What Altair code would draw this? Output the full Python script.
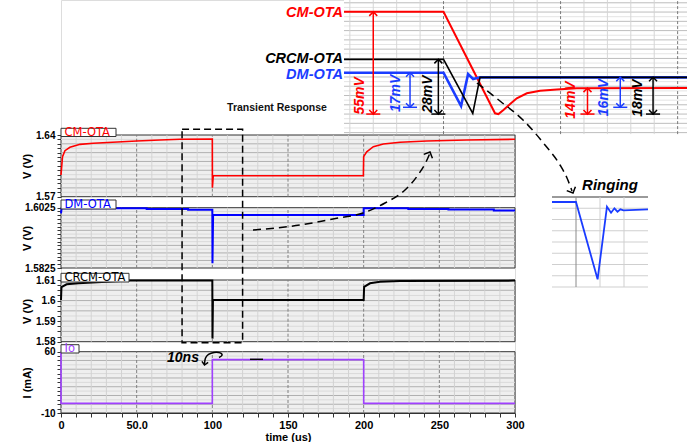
import altair as alt
import pandas as pd

# ------------------------------------------------------------------ data
# main transient waveforms (time in us)
cm_t = [0, 1, 2.6, 5.9, 12.6, 21.3, 50, 65.4, 78.6, 100, 100.05, 100.6, 199.8, 200, 202, 206.4, 213, 224, 241.7, 268, 300]
cm_v = [1.5946, 1.6154, 1.6222, 1.626, 1.6294, 1.6306, 1.6332, 1.6343, 1.6351, 1.6355, 1.5802, 1.5938, 1.5938, 1.6154, 1.621, 1.6267, 1.6298, 1.6317, 1.6332, 1.6343, 1.6351]

dm_t = [0, 0.4, 56.6, 56.6, 84, 84, 100, 100.1, 100.5, 200, 200, 229.5, 229.5, 256, 256, 286, 286, 300]
dm_v = [1.6006, 1.6023, 1.6023, 1.6021, 1.6021, 1.6018, 1.6018, 1.5841, 1.6001, 1.6001, 1.6023, 1.6023, 1.6021, 1.6021, 1.6019, 1.6019, 1.6016, 1.6016]

cr_t = [0, 0.3, 3.7, 11.5, 45.6, 100, 100.1, 100.4, 200, 200.3, 204.2, 210.8, 224, 300]
cr_v = [1.6003, 1.6065, 1.6079, 1.6084, 1.6097, 1.6097, 1.5815, 1.6003, 1.6003, 1.6067, 1.6084, 1.6092, 1.6095, 1.6097]

io_t = [0, 0.01, 100, 100.01, 200, 200.01, 300]
io_v = [60, 1, 1, 51, 51, 1, 1]

time_ticks = list(range(0, 301, 10))

# zoomed inset around the load step (time in ns, relative level in mV)
ins_cm_t = [-8.5, 0, 4.4, 4.69, 5.12, 5.69, 6.26, 7.12, 8.25, 9.68, 11.39, 20.8]
ins_cm_v = [55.1, 55.1, 0.4, 0, 2.2, 5.4, 8.5, 11.2, 12.6, 13.3, 13.9, 14.0]
ins_cr_t = [-8.5, 0, 2.5, 3.12, 20.8]
ins_cr_v = [29.5, 29.5, 0.4, 19.8, 19.8]
ins_dm_t = [-8.5, 0, 1.5, 2.1, 2.53, 3.12, 20.8]
ins_dm_v = [22.3, 22.3, 4.3, 21.6, 18.9, 19.8, 19.8]

# measured deltas in the inset
meas_t = [-6.0, -2.86, -0.44, 12.3, 15.1, 17.9]
meas_top = [55.1, 22.3, 29.5, 14.0, 19.8, 19.8]
meas_bot = [0, 3.65, 0, 0, 3.65, 0]
meas_lab = ["55mV", "17mV", "28mV", "14mV", "16mV", "18mV"]
meas_col = ["#ff0000", "#1a3cff", "#000000", "#ff0000", "#1a3cff", "#000000"]
meas_lab_t = [-7.1, -4.07, -1.36, 10.88, 13.72, 16.59]
meas_lab_v = [9.85, 11.2, 10.8, 7.58, 8.93, 8.66]

# ringing detail (relative units)
ring_t = [-1, 0, 0.9, 1.29, 1.46, 1.6, 1.73, 1.85, 1.98, 3]
ring_v = [85, 85, 7.7, 80.3, 74.3, 78.7, 75.3, 77.7, 76.7, 77.7]

# ------------------------------------------------------------------ layout
LEFT, RIGHT, TOP, BOTTOM = 61, 172, 0, 29
PW, PH = 687 - LEFT - RIGHT, 442 - TOP - BOTTOM
FONT = "Liberation Sans"


def S(domain, rng):
    return alt.Scale(domain=domain, range=rng, nice=False, zero=False)


def XM():
    return S([0, 300], [0, PW])


def AX():
    return S([0, 687], [-LEFT, 687 - LEFT])


def AY():
    return S([0, 442], [0, 442])


def seq(a, b, step, nd=5):
    out, i = [], 0
    while True:
        v = round(a + i * step, nd)
        if v > b + 1e-9:
            break
        out.append(v)
        i += 1
    return out


layers = []

panels = [
    dict(name="CM-OTA", color="#ff0000", t=cm_t, v=cm_v, dom=[1.57, 1.64], top=135, bot=196.7,
         tick=0.005, labels=[1.57, 1.64], major=0.01, title="V (V)", box=(61, 116, 128.3, 136.5), sw=1.6),
    dict(name="DM-OTA", color="#0000ff", t=dm_t, v=dm_v, dom=[1.5825, 1.6025], top=207.7, bot=268,
         tick=0.00125, labels=[1.5825, 1.6025], major=0.0025, title="V (V)", box=(61, 116, 200, 209), sw=2),
    dict(name="CRCM-OTA", color="#000000", t=cr_t, v=cr_v, dom=[1.58, 1.61], top=280, bot=341.7,
         tick=0.0025, labels=[1.58, 1.59, 1.6, 1.61], major=0.005, title="V (V)", box=(61, 129, 273.3, 282), sw=2),
    dict(name="Io", color="#a040ff", t=io_t, v=io_v, dom=[-10, 60], top=351.7, bot=PH,
         tick=5, labels=[-10, 60], major=10, title="I (mA)", box=(61, 79, 344.7, 353), sw=1.6),
]

for k, p in enumerate(panels):
    lo, hi = p["dom"]
    ys = S([lo, hi], [p["bot"], p["top"]])
    frame = pd.DataFrame({"t0": [0], "t1": [300], "v0": [lo], "v1": [hi]})
    layers.append(alt.Chart(frame).mark_rect(fill="#efefef", stroke="#333333", strokeWidth=1).encode(
        x=alt.X("t0:Q", scale=XM(), axis=None), x2="t1:Q",
        y=alt.Y("v0:Q", scale=ys, axis=None), y2="v1:Q"))
    # horizontal grid
    maj = [v for v in seq(lo, hi, p["major"], 6) if lo < v < hi]
    mnr = [round(v + p["major"] / 2, 6) for v in [lo] + maj if v + p["major"] / 2 < hi]
    for vals, col in ((mnr, "#dadada"), (maj, "#b0b0b0")):
        d = pd.DataFrame({"v": vals, "t0": 0, "t1": 300})
        layers.append(alt.Chart(d).mark_rule(color=col, strokeWidth=1).encode(
            x=alt.X("t0:Q", scale=XM(), axis=None), x2="t1:Q",
            y=alt.Y("v:Q", scale=ys, axis=None)))
    # vertical grid
    vmin = [t for t in time_ticks if 0 < t < 300 and t % 50 != 0]
    vmaj = [t for t in time_ticks if 0 < t < 300 and t % 50 == 0]
    for vals, col, dash in ((vmin, "#d2d2d2", [1, 0]), (vmaj, "#808080", [3, 2])):
        d = pd.DataFrame({"t": vals, "v0": lo, "v1": hi})
        layers.append(alt.Chart(d).mark_rule(color=col, strokeWidth=1, strokeDash=dash).encode(
            x=alt.X("t:Q", scale=XM(), axis=None),
            y=alt.Y("v0:Q", scale=ys, axis=None), y2="v1:Q"))
    # waveform with its own y axis (and the time axis on the last panel)
    ticks = seq(lo, hi, p["tick"], 6)
    yaxis = alt.Axis(orient="left", values=ticks,
                     labelExpr=f"indexof({p['labels']}, datum.value) >= 0 ? toString(datum.value) : ''",
                     title=p["title"], titleX=-33.5, titleY=(p["top"] + p["bot"]) / 2, titleAngle=270,
                     titleAlign="center", titleBaseline="middle", titleFont=FONT, titleFontSize=11,
                     titleFontWeight="bold", titleColor="#000", labelFont=FONT, labelFontSize=10,
                     labelFontWeight="bold", labelColor="#000", labelOverlap=False, labelFlush=False,
                     tickSize=4, labelPadding=2, domainColor="#333", tickColor="#333", grid=False)
    if k == len(panels) - 1:
        xaxis = alt.Axis(orient="bottom", values=time_ticks,
                         labelExpr="datum.value % 50 == 0 ? (datum.value == 50 ? '50.0' : toString(datum.value)) : ''",
                         title="time (us)", titleY=24, titleBaseline="middle", titleFont=FONT, titleFontSize=11,
                         titleFontWeight="bold", titleColor="#000", labelFont=FONT, labelFontSize=11,
                         labelFontWeight="bold", labelColor="#000", labelOverlap=False, labelFlush=False,
                         tickSize=4, labelPadding=2, domainColor="#333", tickColor="#333", grid=False)
    else:
        xaxis = None
    d = pd.DataFrame({"t": p["t"], "v": p["v"], "i": range(len(p["t"]))})
    layers.append(alt.Chart(d).mark_line(color=p["color"], strokeWidth=p["sw"]).encode(
        x=alt.X("t:Q", scale=XM(), axis=xaxis),
        y=alt.Y("v:Q", scale=ys, axis=yaxis), order="i:Q"))
    # header label box
    bx0, bx1, by0, by1 = p["box"]
    hb = pd.DataFrame({"x": [bx0], "x2": [bx1], "y": [by0], "y2": [by1], "s": [p["name"]],
                       "tx": [bx0 + 3.5], "ty": [(by0 + by1) / 2 + 0.5]})
    layers.append(alt.Chart(hb).mark_rect(fill="white", stroke="#333333", strokeWidth=1).encode(
        x=alt.X("x:Q", scale=AX(), axis=None), x2="x2:Q",
        y=alt.Y("y:Q", scale=AY(), axis=None), y2="y2:Q"))
    layers.append(alt.Chart(hb).mark_text(align="left", baseline="middle", font="DejaVu Sans",
                                          fontSize=11.5, color=p["color"]).encode(
        x=alt.X("tx:Q", scale=AX(), axis=None), y=alt.Y("ty:Q", scale=AY(), axis=None), text="s:N"))

# small dash left in the Io panel
dash_df = pd.DataFrame({"x": [250], "x2": [263], "y": [359.3]})
layers.append(alt.Chart(dash_df).mark_rule(color="black", strokeWidth=1.4).encode(
    x=alt.X("x:Q", scale=AX(), axis=None), x2="x2:Q", y=alt.Y("y:Q", scale=AY(), axis=None)))

# ------------------------------------------------------------------ top inset
IX = lambda: S([-8.5, 20.8], [344 - LEFT, 687 - LEFT])
IY = lambda: S([-10.8, 61.5], [134.1, 0])

bg = pd.DataFrame({"a": [-8.5], "b": [20.8], "c": [-10.8], "d": [61.5]})
layers.append(alt.Chart(bg).mark_rect(fill="white").encode(
    x=alt.X("a:Q", scale=IX(), axis=None), x2="b:Q", y=alt.Y("c:Q", scale=IY(), axis=None), y2="d:Q"))
ih_light = [v for v in seq(-7.5, 60, 5)]
ih_dark = [v for v in seq(-10, 60, 5)]
for vals, col in ((ih_light, "#e4e4e4"), (ih_dark, "#bdbdbd")):
    d = pd.DataFrame({"v": vals, "a": -8.5, "b": 20.8})
    layers.append(alt.Chart(d).mark_rule(color=col, strokeWidth=1).encode(
        x=alt.X("a:Q", scale=IX(), axis=None), x2="b:Q", y=alt.Y("v:Q", scale=IY(), axis=None)))
iv_minor = [-8, -6, -4, -2, 2, 4, 6, 8, 12, 14, 16, 18]
iv_major = [0, 10, 20]
for vals, col, dash in ((iv_minor, "#d4d4d4", [1, 0]), (iv_major, "#7a7a7a", [3, 2])):
    d = pd.DataFrame({"t": vals, "c": -10.8, "d": 61.5})
    layers.append(alt.Chart(d).mark_rule(color=col, strokeWidth=1, strokeDash=dash).encode(
        x=alt.X("t:Q", scale=IX(), axis=None), y=alt.Y("c:Q", scale=IY(), axis=None), y2="d:Q"))

for tt, vv, col, sw in ((ins_cm_t, ins_cm_v, "#ff0000", 2), (ins_dm_t, ins_dm_v, "#1a3cff", 2.6),
                        (ins_cr_t, ins_cr_v, "#000000", 1.6)):
    d = pd.DataFrame({"t": tt, "v": vv, "i": range(len(tt))})
    layers.append(alt.Chart(d).mark_line(color=col, strokeWidth=sw).encode(
        x=alt.X("t:Q", scale=IX(), axis=None), y=alt.Y("v:Q", scale=IY(), axis=None), order="i:Q"))

lab = pd.DataFrame({"t": [-8.5, -8.5, -8.5], "v": [55.1, 30.0, 21.8],
                    "s": ["CM-OTA", "CRCM-OTA", "DM-OTA"], "c": ["#ff0000", "#000000", "#1a3cff"]})
layers.append(alt.Chart(lab).mark_text(align="right", baseline="middle", font=FONT, fontSize=14.5,
                                       fontWeight="bold", fontStyle="italic", dx=-1, dy=1).encode(
    x=alt.X("t:Q", scale=IX(), axis=None), y=alt.Y("v:Q", scale=IY(), axis=None), text="s:N",
    color=alt.Color("c:N", scale=None)))

meas = pd.DataFrame({"t": meas_t, "top": meas_top, "bot": meas_bot, "c": meas_col,
                     "t0": [t - 0.6 for t in meas_t], "t1": [t + 0.6 for t in meas_t],
                     "s": meas_lab, "lt": meas_lab_t, "lv": meas_lab_v})
layers.append(alt.Chart(meas).mark_rule(strokeWidth=1.5).encode(
    x=alt.X("t:Q", scale=IX(), axis=None), y=alt.Y("top:Q", scale=IY(), axis=None), y2="bot:Q",
    color=alt.Color("c:N", scale=None)))
layers.append(alt.Chart(meas).mark_rule(strokeWidth=1.5).encode(
    x=alt.X("t0:Q", scale=IX(), axis=None), x2="t1:Q", y=alt.Y("bot:Q", scale=IY(), axis=None),
    color=alt.Color("c:N", scale=None)))
CHEV = "M-1,1L0,0L1,1"
for fld, ang in (("top", 0), ("bot", 180)):
    layers.append(alt.Chart(meas).mark_point(shape=CHEV, filled=False, size=64, strokeWidth=1.5,
                                             angle=ang, opacity=1).encode(
        x=alt.X("t:Q", scale=IX(), axis=None), y=alt.Y(f"{fld}:Q", scale=IY(), axis=None),
        color=alt.Color("c:N", scale=None)))
layers.append(alt.Chart(meas).mark_text(angle=270, align="center", baseline="middle", font=FONT,
                                        fontSize=14, fontWeight="bold", fontStyle="italic").encode(
    x=alt.X("lt:Q", scale=IX(), axis=None), y=alt.Y("lv:Q", scale=IY(), axis=None), text="s:N",
    color=alt.Color("c:N", scale=None)))

# ------------------------------------------------------------------ ringing inset
RX = lambda: S([-1, 3], [552 - LEFT, 648 - LEFT])
RY = lambda: S([0, 90], [287, 197])
rbg = pd.DataFrame({"a": [-1], "b": [3], "c": [0], "d": [90]})
layers.append(alt.Chart(rbg).mark_rect(fill="white").encode(
    x=alt.X("a:Q", scale=RX(), axis=None), x2="b:Q", y=alt.Y("c:Q", scale=RY(), axis=None), y2="d:Q"))
rh = pd.DataFrame({"v": seq(0, 78.75, 11.25), "a": -1, "b": 3})
layers.append(alt.Chart(rh).mark_rule(color="#cfcfcf", strokeWidth=1).encode(
    x=alt.X("a:Q", scale=RX(), axis=None), x2="b:Q", y=alt.Y("v:Q", scale=RY(), axis=None)))
rtop = pd.DataFrame({"v": [90], "a": -1, "b": 3})
layers.append(alt.Chart(rtop).mark_rule(color="#9a9a9a", strokeWidth=2).encode(
    x=alt.X("a:Q", scale=RX(), axis=None), x2="b:Q", y=alt.Y("v:Q", scale=RY(), axis=None)))
for vals, col in (([1, 2], "#cfcfcf"), ([0], "#8a8a8a")):
    d = pd.DataFrame({"t": vals, "c": 0, "d": 90})
    layers.append(alt.Chart(d).mark_rule(color=col, strokeWidth=1).encode(
        x=alt.X("t:Q", scale=RX(), axis=None), y=alt.Y("c:Q", scale=RY(), axis=None), y2="d:Q"))
d = pd.DataFrame({"t": ring_t, "v": ring_v, "i": range(len(ring_t))})
layers.append(alt.Chart(d).mark_line(color="#1a3cff", strokeWidth=1.8).encode(
    x=alt.X("t:Q", scale=RX(), axis=None), y=alt.Y("v:Q", scale=RY(), axis=None), order="i:Q"))

# ------------------------------------------------------------------ annotations (page pixels)
def ann_text(x, y, s, **kw):
    dd = pd.DataFrame({"x": [x], "y": [y], "s": [s]})
    return alt.Chart(dd).mark_text(baseline="middle", **kw).encode(
        x=alt.X("x:Q", scale=AX(), axis=None), y=alt.Y("y:Q", scale=AY(), axis=None), text="s:N")


def ann_line(xs, ys, **kw):
    dd = pd.DataFrame({"x": xs, "y": ys, "i": range(len(xs))})
    return alt.Chart(dd).mark_line(**kw).encode(
        x=alt.X("x:Q", scale=AX(), axis=None), y=alt.Y("y:Q", scale=AY(), axis=None), order="i:Q")


def ann_head(x, y, ang, size=90):
    dd = pd.DataFrame({"x": [x], "y": [y]})
    return alt.Chart(dd).mark_point(shape=CHEV, filled=False, size=size, strokeWidth=1.5, color="black",
                                    angle=ang, opacity=1).encode(
        x=alt.X("x:Q", scale=AX(), axis=None), y=alt.Y("y:Q", scale=AY(), axis=None))


layers.append(ann_text(277, 108.3, "Transient Response", font=FONT, fontSize=10.5, fontWeight="bold",
                       align="center", color="#111"))

# dashed zoom box around the step (x in us, y in page px)
box = pd.DataFrame({"t0": [80], "t1": [120], "y0": [129.3], "y1": [342.7]})
layers.append(alt.Chart(box).mark_rect(fillOpacity=0, stroke="black", strokeWidth=1.5,
                                       strokeDash=[7, 4]).encode(
    x=alt.X("t0:Q", scale=XM(), axis=None), x2="t1:Q",
    y=alt.Y("y0:Q", scale=AY(), axis=None), y2="y1:Q"))

# dashed arrow DM-OTA -> CM-OTA recovery
layers.append(ann_line([253, 300, 333, 363, 385, 405, 418, 426, 430],
                       [230, 225, 219, 213, 203, 190, 175, 162, 153],
                       color="black", strokeWidth=1.5, strokeDash=[8, 5], interpolate="monotone"))
layers.append(ann_head(430, 152, 24))

# dashed arrow inset -> ringing
layers.append(ann_line([477, 500, 523, 545, 560, 567, 572],
                       [83, 101, 120, 145, 165, 178, 191],
                       color="black", strokeWidth=1.5, strokeDash=[8, 5], interpolate="monotone"))
layers.append(ann_head(573, 193, 156))
layers.append(ann_text(610, 185, "Ringing", font=FONT, fontSize=15, fontWeight="bold", fontStyle="italic",
                       align="center", color="black"))

# 10ns rise-time note
layers.append(ann_text(183, 358.3, "10ns", font=FONT, fontSize=14, fontWeight="bold", fontStyle="italic",
                       align="center", color="black"))
layers.append(ann_line([204.5, 205, 208, 214, 221, 223, 219],
                       [364, 358, 354, 352, 352.5, 355.5, 357.5],
                       color="black", strokeWidth=1.5, interpolate="basis"))
layers.append(ann_head(204.5, 365, 190, size=40))

chart = alt.layer(*layers).resolve_scale(x="independent", y="independent").properties(
    width=PW, height=PH,
    padding={"left": LEFT, "top": TOP, "right": RIGHT, "bottom": BOTTOM},
    autosize=alt.AutoSizeParams(type="none"),
).configure_view(stroke=None).configure(background="white")

chart.save("out.html", embed_options={"renderer": "svg", "actions": False})
